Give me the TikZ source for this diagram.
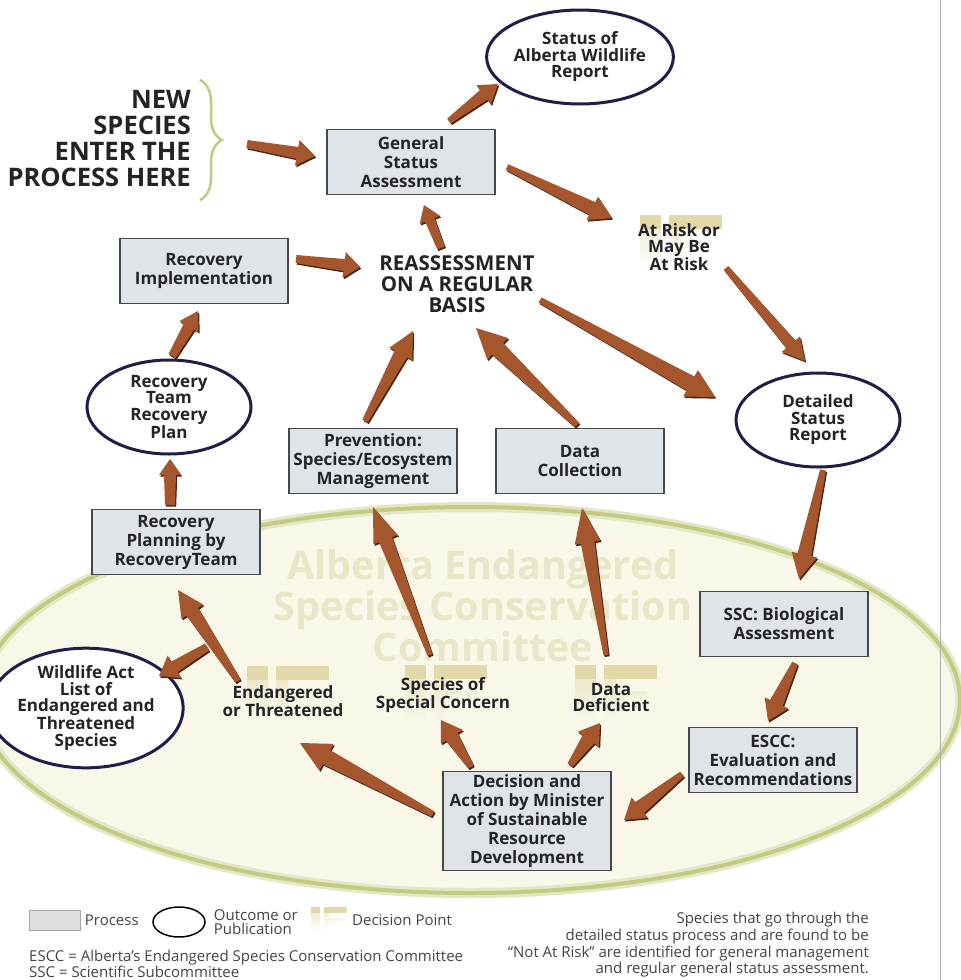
\documentclass[tikz,border=0pt]{standalone}
\usepackage{fontspec}
\setmainfont{Open Sans}
\usetikzlibrary{calc,shapes.geometric,decorations.pathreplacing,positioning}

\definecolor{boxfill}{RGB}{222,228,231}
\definecolor{boxline}{RGB}{70,72,74}
\definecolor{navy}{RGB}{30,30,70}
\definecolor{rust}{RGB}{166,86,44}
\definecolor{rustdark}{RGB}{70,40,25}
\definecolor{cream}{RGB}{248,247,232}
\definecolor{olive}{RGB}{196,202,128}
\definecolor{ifcol}{RGB}{226,216,168}
\definecolor{inktext}{RGB}{35,35,40}
\definecolor{wmark}{RGB}{234,231,200}

\tikzset{
  procbox/.style={draw=boxline, line width=1.2pt, fill=boxfill, minimum width=168pt,
    minimum height=65pt, align=center, inner sep=2pt,
    font=\bfseries\fontsize{17}{19}\selectfont, text=inktext},
  outcome/.style={ellipse, draw=navy, line width=3pt, fill=white, minimum width=164pt,
    minimum height=94pt, inner sep=0pt, align=center,
    font=\bfseries\fontsize{17}{16.5}\selectfont, text=inktext},
  choice/.style={align=center, inner sep=0pt, text=inktext,
    font=\bfseries\fontsize{17}{16}\selectfont},
  keytext/.style={inner sep=0pt, text=inktext!85, font=\fontsize{15}{14.5}\selectfont},
}

% tapered block arrow: tail width, neck width, head width, head length
\pgfkeys{/flow/.cd, tw/.initial=3, nw/.initial=7, hw/.initial=13, hl/.initial=22}
\newcommand{\flow}[3][]{%
  \pgfkeys{/flow/.cd, tw=3, nw=7, hw=13, hl=22, #1}%
  \coordinate (fA) at #2;
  \coordinate (fB) at #3;
  \coordinate (fN) at ($(fB)!\pgfkeysvalueof{/flow/hl}pt!(fA)$);
  \foreach \fc/\fx/\fy in {rustdark/1.2/-1.6, rust/0/0}
    \fill[\fc, transform canvas={xshift=\fx pt, yshift=\fy pt}]
      ($(fA)!\pgfkeysvalueof{/flow/tw}pt!90:(fB)$)
      -- ($(fN)!\pgfkeysvalueof{/flow/nw}pt!-90:(fA)$)
      -- ($(fN)!\pgfkeysvalueof{/flow/hw}pt!-90:(fA)$)
      -- (fB)
      -- ($(fN)!\pgfkeysvalueof{/flow/hw}pt!90:(fA)$)
      -- ($(fN)!\pgfkeysvalueof{/flow/nw}pt!90:(fA)$)
      -- ($(fA)!\pgfkeysvalueof{/flow/tw}pt!-90:(fB)$) -- cycle;
}

% faded "IF" decision mark
\newcommand{\ifmark}[4]{%
  \begin{scope}[shift={(#1,#2)}, scale=#3]
    \fill[ifcol] (0,0) rectangle (21,14);
    \shade[top color=ifcol!45!#4, bottom color=#4] (0,14) rectangle (21,55);
    \fill[ifcol] (29,0) rectangle (82,14);
    \shade[top color=ifcol!45!#4, bottom color=#4] (29,14) rectangle (41,55);
    \shade[top color=ifcol!30!#4, bottom color=#4] (41,26) rectangle (72,36);
  \end{scope}}

\begin{document}
\begin{tikzpicture}[x=1pt, y=-1pt]
  \useasboundingbox (0,0) rectangle (961,980);
  \fill[white] (0,0) rectangle (961,980);

  % committee area
  \begin{scope}
    \clip (0,0) rectangle (961,980);
    \fill[cream] (470,700) ellipse [x radius=490, y radius=193];
    \draw[olive!45, line width=10pt] (470,700) ellipse [x radius=490, y radius=193];
    \draw[olive, line width=4pt] (470,700) ellipse [x radius=490, y radius=193];
  \end{scope}
  \node[text=wmark, align=center, font=\bfseries\fontsize{39.5}{41}\selectfont]
    (wmark) at (483,606) {Alberta Endangered\\Species Conservation\\Committee};
  \draw[gray!60, line width=0.8pt] (940,0) -- (940,980);

  % decision marks
  \ifmark{640}{215}{1}{white}
  \ifmark{247}{666}{1}{cream}
  \ifmark{405}{665}{1}{cream}
  \ifmark{575}{665}{1}{cream}

  % entry
  \node[anchor=east, align=right, inner sep=0pt, text=inktext,
    font=\bfseries\fontsize{25.5}{26}\selectfont] (newsp) at (191,139)
    {NEW\\SPECIES\\ENTER THE\\PROCESS HERE};
  \draw[olive, line width=2.5pt, decorate, decoration={brace, amplitude=22pt}]
    (200,80) -- (200,200);

  % process, outcomes, decisions
  \node[outcome] (report) at (580,57) {Status of\\Alberta Wildlife\\Report};
  \node[procbox] (gsa) at (411,162) {General\\Status\\Assessment};
  \node[choice, font=\bfseries\fontsize{20.5}{21}\selectfont] (reassess) at (457,284)
    {REASSESSMENT\\ON A REGULAR\\BASIS};
  \node[choice] (atrisk) at (679,247) {At Risk or\\May Be\\At Risk};
  \node[procbox] (recimp) at (204,271) {Recovery\\Implementation};
  \node[outcome] (teamplan) at (169,407) {Recovery\\Team\\Recovery\\Plan};
  \node[outcome] (detailed) at (818,420) {Detailed\\Status\\Report};
  \node[procbox] (prev) at (373,461) {Prevention:\\Species/Ecosystem\\Management};
  \node[procbox] (datacol) at (580,461) {Data\\Collection};
  \node[procbox] (recplan) at (176,542) {Recovery\\Planning by\\RecoveryTeam};
  \node[procbox] (ssc) at (784,624) {SSC: Biological\\Assessment};
  \node[procbox] (escc) at (773,760) {ESCC:\\Evaluation and\\Recommendations};
  \node[procbox, minimum height=99pt] (decide) at (527,821)
    {Decision and\\Action by Minister\\of Sustainable\\Resource\\Development};
  \node[outcome, minimum width=172pt, minimum height=112pt] (actlist) at (86,708)
    {Wildlife Act\\List of\\Endangered and\\Threatened\\Species};
  \node[choice] (endt) at (283,701) {Endangered\\or Threatened};
  \node[choice] (special) at (443,695) {Species of\\Special Concern};
  \node[choice] (deficient) at (611,698) {Data\\Deficient};

  % flows
  \flow[tw=4, nw=6, hl=18]{($(newsp.east)+(56,5)$)}{($(gsa)+(-96,-6)$)}
  \flow[hl=18, nw=6, hw=12]{($(gsa)+(38,-41)$)}{($(report)+(-82,27)$)}
  \flow{($(gsa)+(96,5)$)}{($(atrisk)+(-67,-29)$)}
  \flow[nw=6, hw=12]{($(atrisk)+(47,21)$)}{($(detailed)+(-13,-59)$)}
  \flow[nw=8, hw=15, hl=28]{($(reassess)+(83,16)$)}{($(detailed)+(-103,-23)$)}
  \flow[tw=4, nw=5, hw=11, hl=16]{($(reassess)+(-16,-36)$)}{($(gsa)+(13,43)$)}
  \flow[tw=4, nw=6, hl=16]{($(recimp)+(92,-12)$)}{($(reassess)+(-97,-17)$)}
  \flow[hl=26]{($(prev)+(-8,-40)$)}{($(reassess)+(-44,47)$)}
  \flow[nw=8, hw=15, hl=30]{($(datacol)+(-3,-36)$)}{($(reassess)+(19,44)$)}
  \flow[hl=25]{($(detailed)+(5,50)$)}{($(ssc)+(15,-45)$)}
  \flow[hl=20]{($(ssc)+(11,39)$)}{($(escc)+(-5,-39)$)}
  \flow[hl=20]{($(escc)+(-91,14)$)}{($(decide)+(97,-1)$)}
  \flow[hl=20]{($(decide)+(43,-56)$)}{($(deficient)+(-11,25)$)}
  \flow[hl=20]{($(decide)+(-56,-54)$)}{($(special)+(-2,25)$)}
  \flow[nw=8, hw=15, hl=30]{($(decide)+(-94,-7)$)}{($(endt)+(17,42)$)}
  \flow[hl=26]{($(endt)+(-45,-20)$)}{($(recplan)+(2,48)$)}
  \flow[tw=4, nw=6, hl=18]{($(endt)+(-76,-54)$)}{($(actlist)+(73,-32)$)}
  \flow[tw=2.5, hl=35]{($(special)+(-13,-40)$)}{($(prev)+(0,46)$)}
  \flow[tw=2.5, hl=35]{($(deficient)+(-5,-43)$)}{($(datacol)+(2,47)$)}
  \flow[tw=5, nw=6, hw=11, hl=16]{($(recplan)+(-6,-37)$)}{($(teamplan)+(1,52)$)}
  \flow[tw=4, nw=6, hw=11, hl=18]{($(teamplan)+(3,-51)$)}{($(recimp)+(-6,40)$)}

  % key
  \node[draw=gray!70, fill=gray!25, minimum width=51pt, minimum height=20pt, inner sep=0pt]
    (keybox) at (55,920) {};
  \node[keytext, right=4pt of keybox] (keyproc) {Process};
  \node[ellipse, draw=black, line width=1.5pt, minimum width=52pt, minimum height=30pt,
    inner sep=0pt] (keyoval) at (179,922) {};
  \node[keytext, align=left, right=8pt of keyoval] (keyout) {Outcome or\\Publication};
  \ifmark{311}{907}{0.44}{white}
  \node[keytext, anchor=west] (keydec) at (352,920) {Decision Point};
  \node[keytext, anchor=west, align=left] (keyabbr) at (29,964)
    {ESCC = Alberta’s Endangered Species Conservation Committee\\SSC = Scientific Subcommittee};
  \node[keytext, anchor=east, align=right, font=\fontsize{15}{16.7}\selectfont]
    (keynote) at (869,945)
    {Species that go through the\\detailed status process and are found to be\\“Not At Risk” are identified for general management\\and regular general status assessment.};
\end{tikzpicture}
\end{document}
